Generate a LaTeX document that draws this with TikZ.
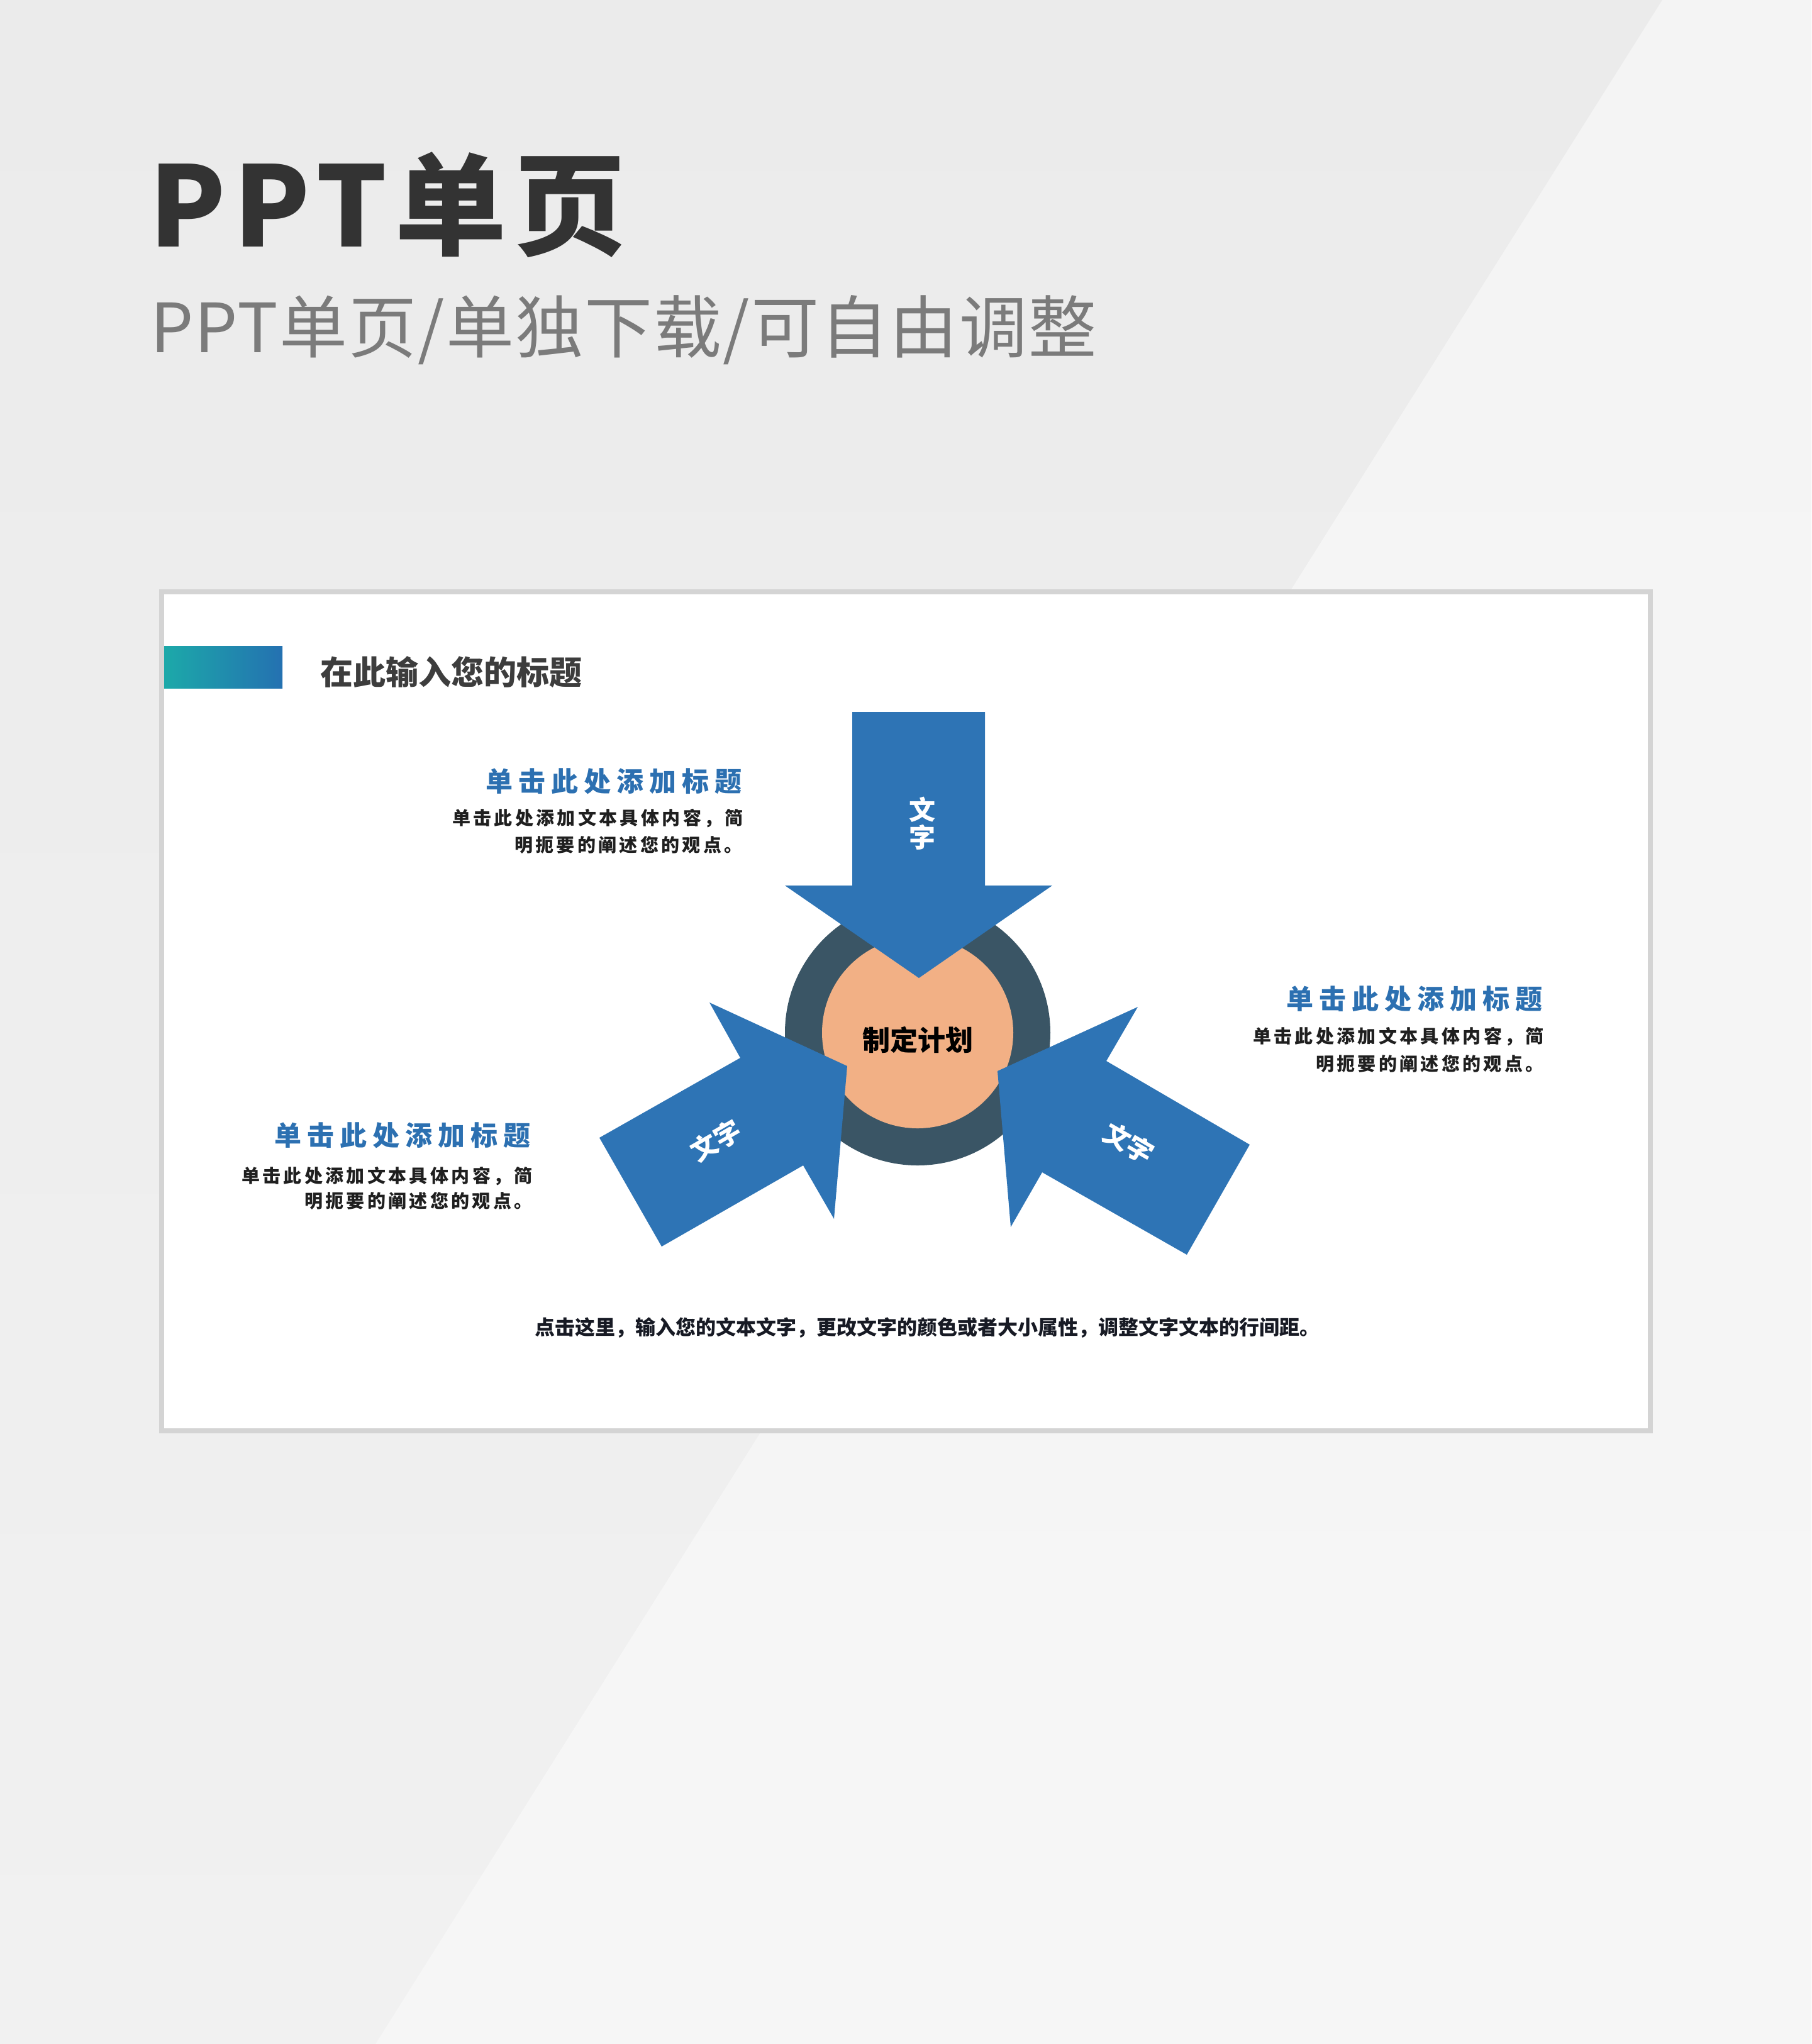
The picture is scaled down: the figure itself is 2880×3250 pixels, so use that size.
\documentclass[tikz,border=0pt]{standalone}
\usepackage{fontspec}
\newfontfamily\cjk{Noto Sans CJK SC}
\newdimen\pxd \pxd=0.28453pt
\newcommand\pxf[1]{\fontsize{#1\pxd}{1.2\dimexpr#1\pxd\relax}\selectfont}
\definecolor{bgtop}{HTML}{EBEBEB}
\definecolor{bgbot}{HTML}{F1F1F1}
\definecolor{bglight}{HTML}{F4F4F4}
\definecolor{bglight2}{HTML}{F6F6F6}
\definecolor{framegray}{HTML}{D4D4D4}
\definecolor{titlegray}{HTML}{333333}
\definecolor{subgray}{HTML}{7B7B7B}
\definecolor{secgray}{HTML}{3D3D3D}
\definecolor{headblue}{HTML}{2C70B1}
\definecolor{arrowblue}{HTML}{2E74B5}
\definecolor{ringcol}{HTML}{3A5565}
\definecolor{peach}{HTML}{F2B085}
\definecolor{bodyblack}{HTML}{1F1F1F}
\definecolor{bottomblack}{HTML}{171A24}
\definecolor{barA}{HTML}{1CA9A9}
\definecolor{barB}{HTML}{2471B1}
\begin{document}
\begin{tikzpicture}[x=0.01cm,y=-0.01cm,
  txt/.style={inner sep=0pt,outer sep=0pt},
  heading/.style={txt,anchor=west,text=headblue,font=\cjk\bfseries\pxf{43}\addfontfeatures{LetterSpace=21}},
  body/.style={txt,anchor=west,text=bodyblack,font=\cjk\bfseries\pxf{29}\addfontfeatures{LetterSpace=15}},
  arrowlabel/.style={txt,anchor=center,text=white,font=\cjk\bfseries\pxf{42}}]
\useasboundingbox (0,0) rectangle (2880,3250);
% background
\shade[top color=bgtop,bottom color=bgbot] (0,0) rectangle (2880,3250);
\shade[top color=bglight,bottom color=bglight2] (2643,0) -- (2880,0) -- (2880,3250) -- (597,3250) -- cycle;
% frame
\fill[framegray] (253,937) rectangle (2628,2279);
\fill[white] (261,945) rectangle (2620,2271);
% gradient bar
\shade[left color=barA,right color=barB] (261,1027) rectangle (449,1094);
% circles
\fill[ringcol] (1459,1642) circle[radius=211];
\fill[peach] (1459,1642) circle[radius=152];
% arrows
\fill[arrowblue] (1355,1132) -- (1566,1132) -- (1566,1408) -- (1673,1408) -- (1461,1555) -- (1248,1408) -- (1355,1408) -- cycle;
\fill[arrowblue] (953,1809) -- (1177,1682) -- (1128,1594) -- (1347,1695) -- (1326,1938) -- (1277,1853) -- (1052,1982) -- cycle;
\fill[arrowblue] (1987,1820) -- (1759,1687) -- (1809,1601) -- (1586,1703) -- (1607,1951) -- (1657,1864) -- (1887,1995) -- cycle;
% titles
\node[txt,anchor=base west,text=titlegray,font=\cjk\bfseries\pxf{177}\addfontfeatures{LetterSpace=7}] (title) at (237,392) {PPT单页};
\node[txt,anchor=base west,text=subgray,font=\cjk\pxf{108}\addfontfeatures{LetterSpace=2}] (subtitle) at (239,560) {PPT单页/单独下载/可自由调整};
\node[txt,anchor=west,text=secgray,font=\cjk\bfseries\pxf{52}] (sectitle) at (509,1068.5) {在此输入您的标题};
% text blocks
\node[heading] (h1) at (772,1242) {单击此处添加标题};
\node[body] (b1a) at (719,1301.5) {单击此处添加文本具体内容，简};
\node[body] (b1b) at (818,1343.5) {明扼要的阐述您的观点。};
\node[heading] (h2) at (2045,1588) {单击此处添加标题};
\node[body] (b2a) at (1992,1648.5) {单击此处添加文本具体内容，简};
\node[body] (b2b) at (2092,1691.5) {明扼要的阐述您的观点。};
\node[heading] (h3) at (436,1805) {单击此处添加标题};
\node[body] (b3a) at (384,1870.5) {单击此处添加文本具体内容，简};
\node[body] (b3b) at (484,1909.5) {明扼要的阐述您的观点。};
% center and arrow labels
\node[txt,anchor=center,text=black,font=\cjk\bfseries\pxf{44}] (center) at (1459.5,1654) {制定计划};
\node[arrowlabel,align=center,font=\cjk\bfseries\fontsize{42\pxd}{44\pxd}\selectfont] (lt) at (1467,1309) {文\\字};
\node[arrowlabel,rotate=30] (ll) at (1138,1813) {文字};
\node[arrowlabel,rotate=-30] (lr) at (1795,1817) {文字};
% bottom text
\node[txt,anchor=west,text=bottomblack,font=\cjk\bfseries\pxf{32}] (bottom) at (850,2111) {点击这里，输入您的文本文字，更改文字的颜色或者大小属性，调整文字文本的行间距。};
\end{tikzpicture}
\end{document}
